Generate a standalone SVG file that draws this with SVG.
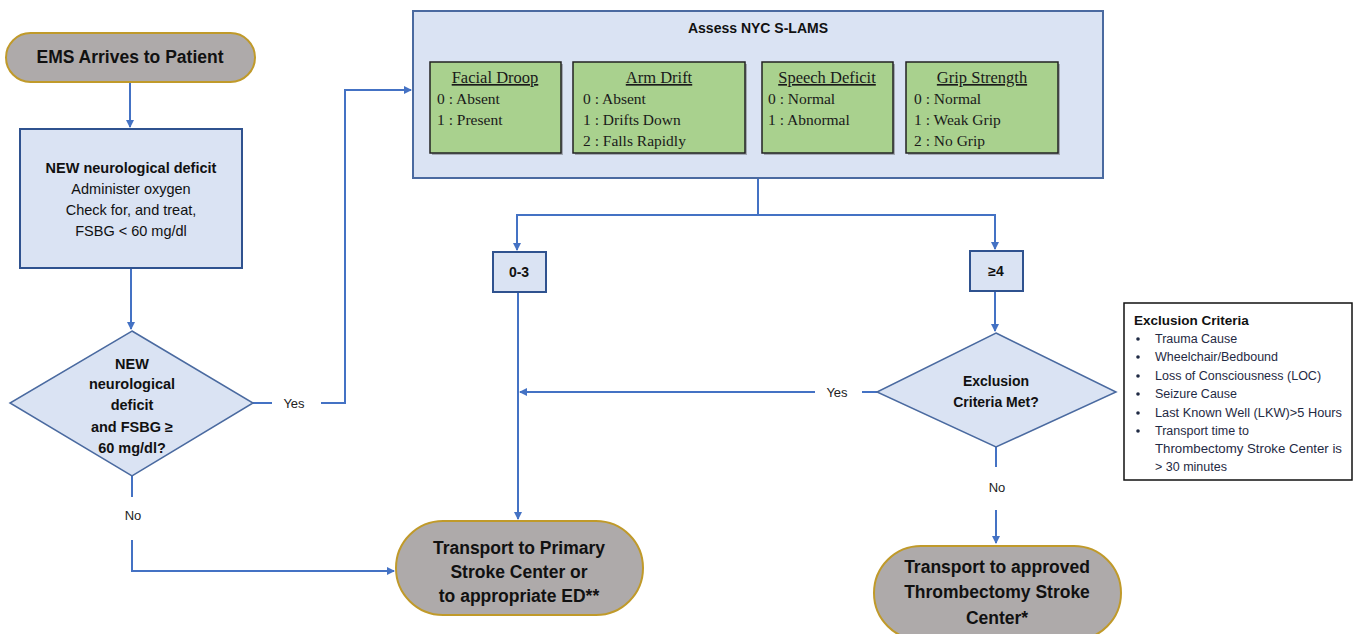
<svg xmlns="http://www.w3.org/2000/svg" width="1356" height="634" viewBox="0 0 1356 634">
<style>
.pill{fill:#aeaaaa;stroke:#c09a2a;stroke-width:2}
.box{fill:#dae3f3;stroke:#2f528f;stroke-width:2}
.dia{fill:#dae3f3;stroke:#4a6aa0;stroke-width:1.5}
.grn{fill:#a9d18e;stroke:#222;stroke-width:1.5}
.shd{fill:#8a8f96;opacity:0.7}
.t{font-family:"Liberation Sans",Arial,sans-serif;fill:#111;text-anchor:middle}
.b{font-weight:bold}
.s{font-family:"Liberation Serif","Times New Roman",serif;fill:#1a1a1a;font-size:15.5px}
.u{text-decoration:underline;text-anchor:middle;font-size:16.5px}
.c{fill:none;stroke:#4472c4;stroke-width:2}
.lbl{font-family:"Liberation Sans",Arial,sans-serif;fill:#222;font-size:13px;text-anchor:middle}
.ex{font-family:"Liberation Sans",Arial,sans-serif;fill:#1f2a44;font-size:12.5px}
</style>
<defs>
<marker id="ah" markerWidth="8" markerHeight="8" refX="7" refY="4" orient="auto" markerUnits="userSpaceOnUse">
<path d="M0,0 L8,4 L0,8 z" fill="#4472c4"/>
</marker>
</defs>
<rect width="1356" height="634" fill="#fff"/>

<g id="connectors">
<path class="c" d="M130,82 V127" marker-end="url(#ah)"/>
<path class="c" d="M131,268 V329" marker-end="url(#ah)"/>
<path class="c" d="M253,403 H272 M321,403 H345 V90 H411" marker-end="url(#ah)"/>
<path class="c" d="M132,476 V497 M132,540 V571 H394" marker-end="url(#ah)"/>
<path class="c" d="M758,178 V215 M517,250 V215 H995 V249"/>
<path class="c" d="M517,215 V250" marker-end="url(#ah)"/>
<path class="c" d="M995,215 V249" marker-end="url(#ah)"/>
<path class="c" d="M518,292 V519" marker-end="url(#ah)"/>
<path class="c" d="M995,291 V331" marker-end="url(#ah)"/>
<path class="c" d="M877,392 H862 M815,392 H520" marker-end="url(#ah)"/>
<path class="c" d="M996,447 V467 M996,510 V543" marker-end="url(#ah)"/>
<text class="lbl" x="294" y="408">Yes</text>
<text class="lbl" x="133" y="520">No</text>
<text class="lbl" x="837" y="397">Yes</text>
<text class="lbl" x="997" y="492">No</text>
</g>

<g id="ems">
<rect class="pill" x="6" y="33" width="249" height="49" rx="24.5"/>
<text class="t b" x="130" y="63" font-size="17.5">EMS Arrives to Patient</text>
</g>

<g id="neuro-box">
<rect class="box" x="20" y="129" width="222" height="139"/>
<text class="t" font-size="14.5"><tspan class="b" x="131" y="173">NEW neurological deficit</tspan><tspan x="131" y="194">Administer oxygen</tspan><tspan x="131" y="215">Check for, and treat,</tspan><tspan x="131" y="236">FSBG &lt; 60 mg/dl</tspan></text>
</g>

<g id="neuro-decision">
<polygon class="dia" points="132,331 253,403 132,476 10,403"/>
<text class="t b" font-size="14.5"><tspan x="132" y="369">NEW</tspan><tspan x="132" y="389">neurological</tspan><tspan x="132" y="410">deficit</tspan><tspan x="132" y="432">and FSBG ≥</tspan><tspan x="132" y="453">60 mg/dl?</tspan></text>
</g>

<g id="slams">
<rect class="box" x="413" y="11" width="690" height="167" stroke-width="1.5" style="stroke:#4a6aa0"/>
<text class="t b" x="758" y="33" font-size="14">Assess NYC S-LAMS</text>
<rect class="shd" x="432" y="64" width="131" height="91"/>
<rect class="grn" x="430" y="62" width="131" height="91"/>
<text class="s u" x="495" y="83">Facial Droop</text>
<text class="s"><tspan x="437" y="104">0 : Absent</tspan><tspan x="437" y="125">1 : Present</tspan></text>
<rect class="shd" x="575" y="64" width="172" height="91"/>
<rect class="grn" x="573" y="62" width="172" height="91"/>
<text class="s u" x="659" y="83">Arm Drift</text>
<text class="s"><tspan x="583" y="104">0 : Absent</tspan><tspan x="583" y="125">1 : Drifts Down</tspan><tspan x="583" y="146">2 : Falls Rapidly</tspan></text>
<rect class="shd" x="764" y="64" width="131" height="91"/>
<rect class="grn" x="762" y="62" width="131" height="91"/>
<text class="s u" x="827" y="83">Speech Deficit</text>
<text class="s"><tspan x="768" y="104">0 : Normal</tspan><tspan x="768" y="125">1 : Abnormal</tspan></text>
<rect class="shd" x="908" y="64" width="152" height="91"/>
<rect class="grn" x="906" y="62" width="152" height="91"/>
<text class="s u" x="982" y="83">Grip Strength</text>
<text class="s"><tspan x="914" y="104">0 : Normal</tspan><tspan x="914" y="125">1 : Weak Grip</tspan><tspan x="914" y="146">2 : No Grip</tspan></text>
</g>

<g id="score-low">
<rect class="box" x="493" y="252" width="53" height="40"/>
<text class="t b" x="519" y="277" font-size="14">0-3</text>
</g>

<g id="score-high">
<rect class="box" x="970" y="251" width="53" height="40"/>
<text class="t b" x="996" y="276" font-size="14">≥4</text>
</g>

<g id="exclusion-decision">
<polygon class="dia" points="996,333 1116,392 996,447 877,392"/>
<text class="t b" font-size="14"><tspan x="996" y="386">Exclusion</tspan><tspan x="996" y="407">Criteria Met?</tspan></text>
</g>

<g id="exclusion-criteria">
<rect x="1124" y="303" width="228" height="177" fill="#fff" stroke="#111" stroke-width="1.5"/>
<text class="t b" x="1134" y="325" font-size="13.5" style="text-anchor:start">Exclusion Criteria</text>
<g fill="#1f2a44">
<circle cx="1138" cy="339" r="1.8"/><circle cx="1138" cy="357" r="1.8"/><circle cx="1138" cy="376" r="1.8"/><circle cx="1138" cy="394" r="1.8"/><circle cx="1138" cy="413" r="1.8"/><circle cx="1138" cy="431" r="1.8"/>
</g>
<text class="ex"><tspan x="1155" y="343">Trauma Cause</tspan><tspan x="1155" y="361">Wheelchair/Bedbound</tspan><tspan x="1155" y="380">Loss of Consciousness (LOC)</tspan><tspan x="1155" y="398">Seizure Cause</tspan><tspan x="1155" y="417" textLength="187" lengthAdjust="spacingAndGlyphs">Last Known Well (LKW)&gt;5 Hours</tspan><tspan x="1155" y="435">Transport time to</tspan><tspan x="1155" y="453" textLength="187" lengthAdjust="spacingAndGlyphs">Thrombectomy Stroke Center is</tspan><tspan x="1155" y="471">&gt; 30 minutes</tspan></text>
</g>

<g id="primary-center">
<rect class="pill" x="396" y="521" width="247" height="94" rx="47"/>
<text class="t b" font-size="17.5"><tspan x="519" y="554">Transport to Primary</tspan><tspan x="519" y="578">Stroke Center or</tspan><tspan x="519" y="602">to appropriate  ED**</tspan></text>
</g>

<g id="thrombectomy-center">
<rect class="pill" x="874" y="546" width="247" height="94" rx="47"/>
<text class="t b" font-size="17.5"><tspan x="997" y="573">Transport to approved</tspan><tspan x="997" y="598">Thrombectomy Stroke</tspan><tspan x="997" y="624">Center*</tspan></text>
</g>
</svg>
